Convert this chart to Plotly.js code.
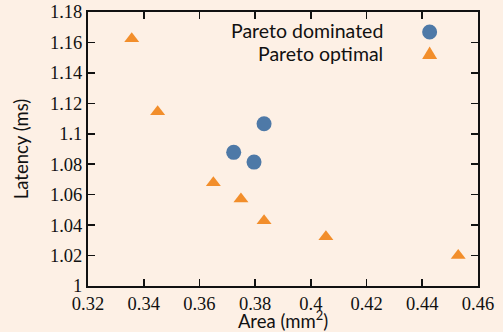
<!DOCTYPE html>
<html>
<head>
<meta charset="utf-8">
<script src="https://cdn.plot.ly/plotly-3.0.1.min.js"></script>
<style>html,body{margin:0;padding:0;background:#fdf0e5;}#chart{width:503px;height:332px;}</style>
</head>
<body>
<div id="chart"></div>
<script>
var dominatedArea = [0.3723, 0.3796, 0.3832];
var dominatedLatency = [1.0878, 1.0814, 1.1066];
var optimalArea = [0.3357, 0.3450, 0.3650, 0.3749, 0.3832, 0.4054, 0.4529];
var optimalLatency = [1.1624, 1.1145, 1.0679, 1.0571, 1.0429, 1.0324, 1.0201];
var xTicks = [0.32, 0.34, 0.36, 0.38, 0.40, 0.42, 0.44, 0.46];
var xTickLabels = ["0.32", "0.34", "0.36", "0.38", "0.4", "0.42", "0.44", "0.46"];
var yTicks = [1.00, 1.02, 1.04, 1.06, 1.08, 1.10, 1.12, 1.14, 1.16, 1.18];
var yTickLabels = ["1", "1.02", "1.04", "1.06", "1.08", "1.1", "1.12", "1.14", "1.16", "1.18"];
var seriesNames = ["Pareto dominated", "Pareto optimal"];

var blue = "#4e79a7", orange = "#f28e2b";
var serif = "Liberation Serif";
var sans = "Lato";

var traces = [
  {x: dominatedArea, y: dominatedLatency, type: "scatter", mode: "markers", name: seriesNames[0],
   marker: {symbol: "circle", size: 15, color: blue, line: {width: 0}}, cliponaxis: false},
  {x: optimalArea, y: optimalLatency, type: "scatter", mode: "markers", name: seriesNames[1],
   marker: {symbol: "triangle-up", size: 13, color: orange, line: {width: 0}}, cliponaxis: false}
];

function axis(extra) {
  var a = {
    showgrid: false, zeroline: false, showline: true, linecolor: "#111", linewidth: 2,
    mirror: "ticks", ticks: "inside", ticklen: 7, tickwidth: 1.6, tickcolor: "#111",
    tickfont: {family: serif, size: 18.5, color: "#111"}
  };
  for (var k in extra) a[k] = extra[k];
  return a;
}

var layout = {
  width: 503, height: 332,
  font: {family: sans, size: 17, color: "#111"},
  paper_bgcolor: "#fdf0e5", plot_bgcolor: "#fdf0e5",
  margin: {l: 88, r: 25, t: 12, b: 46},
  showlegend: false,
  xaxis: axis({
    range: [0.32, 0.46], tickmode: "array", tickvals: xTicks, ticktext: xTickLabels,
    title: {text: "Area (mm<sup>2</sup>)", font: {family: sans, size: 18.5, color: "#111"}, standoff: 2}
  }),
  yaxis: axis({
    range: [1.00, 1.18], tickmode: "array", tickvals: yTicks, ticktext: yTickLabels,
    title: {text: "Latency (ms)", font: {family: sans, size: 18.5, color: "#111"}, standoff: 16}
  }),
  annotations: [
    {xref: "paper", yref: "paper", x: 0.7615, y: 0.932, xanchor: "right", yanchor: "middle",
     text: seriesNames[0], showarrow: false, font: {family: sans, size: 19.5, color: "#111"}},
    {xref: "paper", yref: "paper", x: 0.7615, y: 0.848, xanchor: "right", yanchor: "middle",
     text: seriesNames[1], showarrow: false, font: {family: sans, size: 19.5, color: "#111"}}
  ],
  shapes: [
    {type: "circle", xref: "paper", yref: "paper", xsizemode: "pixel", ysizemode: "pixel",
     xanchor: 0.876, yanchor: 0.927, x0: -7.5, x1: 7.5, y0: -7.5, y1: 7.5,
     fillcolor: blue, line: {width: 0}},
    {type: "path", xref: "paper", yref: "paper", xsizemode: "pixel", ysizemode: "pixel",
     xanchor: 0.876, yanchor: 0.845, path: "M -7.5,-4.5 L 7.5,-4.5 L 0,8 Z",
     fillcolor: orange, line: {width: 0}}
  ]
};

Plotly.newPlot("chart", traces, layout, {displayModeBar: false, staticPlot: true});
</script>
</body>
</html>
